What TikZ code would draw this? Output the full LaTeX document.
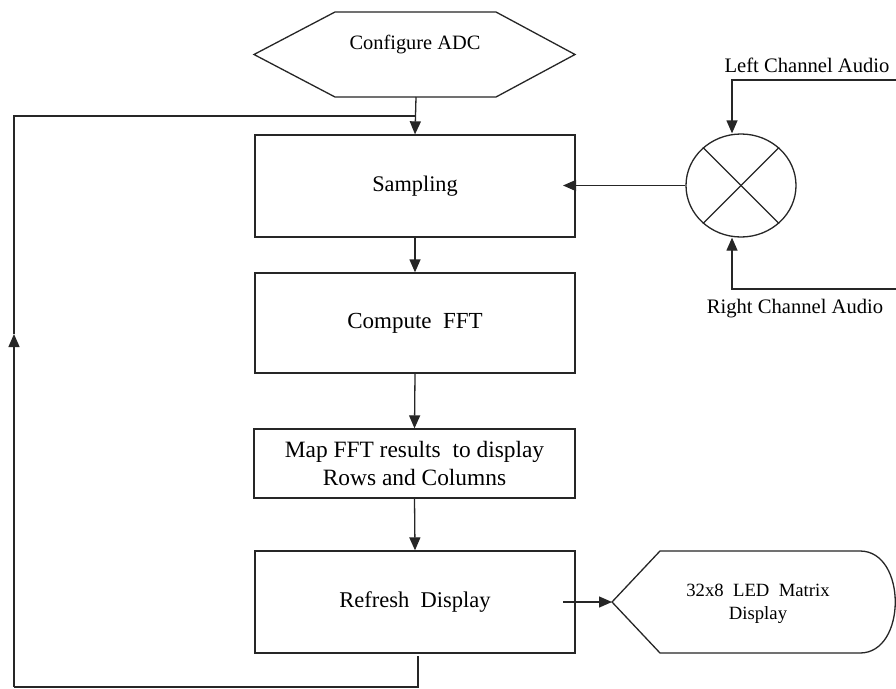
\documentclass[tikz,border=0pt]{standalone}
\usepackage{fontspec}
\setmainfont{Liberation Serif}
\usetikzlibrary{arrows.meta,shapes.geometric}

\begin{document}
\begin{tikzpicture}[x=1pt,y=-1pt,
  line/.style={draw=black!85, line width=1.3pt},
  arr/.style={line, -{Triangle[length=13pt,width=11pt]}},
  block/.style={line, rectangle, minimum width=320pt, inner sep=0pt, align=center},
  label/.style={inner sep=0pt, font=\fontsize{20.6}{23}\selectfont}
]
\useasboundingbox (0,0) rectangle (896,688);
\fill[white] (0,0) rectangle (896,688);

% start: configure the converter
\draw[line] (254,54.5) -- (335,12) -- (496,12) -- (575,54.5) -- (496,97) -- (335,97) -- cycle;
\node[inner sep=0pt, font=\fontsize{20.4}{23}\selectfont] (cfg) at (415,45) {Configure ADC};
\coordinate (cfgb) at (416,97);

% processing chain
\node[block, minimum height=102pt, font=\fontsize{22.3}{28}\selectfont] (samp) at (415,186) {Sampling};
\node[block, minimum height=100pt, font=\fontsize{23}{28}\selectfont] (fft) at (415,323) {Compute\ \ FFT};
\node[block, minimum height=69pt, minimum width=321pt, font=\fontsize{23.4}{28}\selectfont] (map) at (414.5,463.5) {Map FFT results\ \ to display\\Rows and Columns};
\node[block, minimum height=102pt, font=\fontsize{22.5}{28}\selectfont] (ref) at (415,602) {Refresh\ \ Display};

\draw[arr] (cfgb) -- (samp.north);
\draw[arr] (samp.south) -- (fft.north);
\draw[arr] (fft.south) -- (map.north);
\draw[arr] (map.south) -- (ref.north);

% stereo input mixer
\node[line, ellipse, minimum width=110pt, minimum height=103pt, inner sep=0pt] (mix) at (741,185.5) {};
\draw[line] (mix.45) -- (mix.225);
\draw[line] (mix.135) -- (mix.315);
\coordinate (sampin) at (563,185.5);
\draw[arr] (mix.west) -- (sampin);

\node[label] (lca) at (807,65) {Left Channel Audio};
\node[label] (rca) at (795,309) {Right Channel Audio};
\coordinate (lin) at (897,80);
\coordinate (lbend) at (732,80);
\coordinate (rin) at (897,289);
\coordinate (rbend) at (732,289);
\draw[arr] (lin) -- (lbend) -- (mix.north -| lbend);
\draw[arr] (rin) -- (rbend) -- (mix.south -| rbend);

% output display
\draw[line] (612,602) -- (660,551) -- (860,551)
  .. controls (907,551) and (907,653) .. (860,653) -- (660,653) -- cycle;
\node[align=center, inner sep=0pt, font=\fontsize{18.7}{23}\selectfont] (disp) at (758,604) {32x8\ \ LED\ \ Matrix\\Display};
\coordinate (disptip) at (612,602);
\coordinate (refout) at (563,602);
\draw[arr] (refout) -- (disptip);

% feedback loop back to sampling
\coordinate (reflow) at (418,656);
\coordinate (br) at (418,687);
\coordinate (bl) at (14,687);
\coordinate (lup) at (14,334);
\coordinate (tl) at (14,116);
\coordinate (join) at (416,116);
\draw[line] (reflow) -- (br) -- (bl);
\draw[arr] (bl) -- (lup);
\draw[line] (lup) -- (tl) -- (join);
\end{tikzpicture}
\end{document}
